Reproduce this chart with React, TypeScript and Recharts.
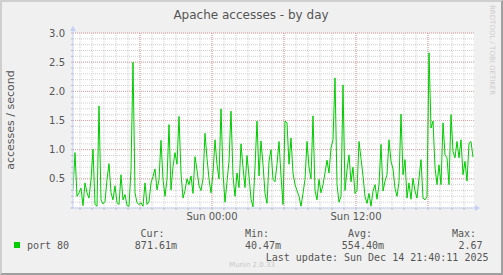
import { LineChart, Line, XAxis, YAxis, CartesianGrid } from 'recharts';

// samples every 10 minutes, hours relative to Sun 00:00 (first sample Sat 12:25)
const START_HOUR = -139 / 12;
const END_HOUR = 262 / 12;
const STEP_HOUR = 1 / 6;

const accesses = [
  0.31, 0.95, 0.2, 0.26, 0.34, 0.04, 0.43, 0.26, 0.17, 0.49,
  1.01, 0.06, 0.03, 1.75, 0.14, 0.07, 0.11, 0.49, 0.76, 0.26,
  0.14, 0.38, 0.09, 0.06, 0.57, 0.14, 0.23, 0.04, 0.03, 0.66,
  2.5, 0.26, 0.09, 0.06, 0.09, 0.03, 0.43, 0.06, 0.11, 0.43,
  0.54, 0.67, 0.31, 0.49, 1.16, 0.49, 0.2, 0.49, 1.43, 0.31,
  0.71, 0.95, 0.75, 1.57, 0.6, 0.17, 0.3, 0.5, 0.4, 0.55,
  0.25, 0.88, 0.65, 0.38, 0.3, 0.5, 1.28, 0.85, 0.5, 0.26,
  0.6, 1.17, 0.75, 0.5, 1.7, 0.6, 0.1, 0.45, 0.8, 1.66,
  0.55, 0.2, 0.6, 0.35, 1.1, 0.7, 0.35, 0.9, 0.55, 0.15,
  0.02, 0.7, 1.49, 0.55, 1.15, 0.75, 0.25, 0.08, 0.8, 1.0,
  0.49, 0.45, 0.75, 1.14, 0.55, 0.06, 1.49, 1.46, 0.75, 1.2,
  0.6, 0.4, 0.3, 0.2, 0.03, 0.25, 0.49, 1.14, 0.7, 0.5,
  1.58, 0.3, 0.14, 0.49, 0.26, 0.4, 0.6, 0.82, 0.6, 1.03,
  1.17, 2.23, 0.4, 0.1, 0.2, 2.11, 0.3, 0.65, 0.91, 0.45,
  0.7, 0.25, 0.3, 1.14, 0.85, 0.55, 0.2, 0.08, 0.25, 0.03,
  0.29, 0.4, 0.15, 0.4, 1.09, 0.29, 0.46, 0.57, 1.17, 0.8,
  0.67, 0.34, 0.2, 0.45, 1.61, 0.57, 0.83, 0.17, 0.43, 0.15,
  0.51, 0.29, 0.17, 0.51, 0.83, 0.17, 0.14, 0.2, 2.66, 1.37,
  1.49, 0.7, 0.4, 0.74, 0.4, 1.46, 0.91, 0.86, 0.4, 1.6,
  0.97, 0.86, 1.14, 0.86, 1.17, 0.57, 0.8, 0.46, 1.11, 1.14,
  0.87,
];

const data = accesses.map((v, i) => ({ t: START_HOUR + i * STEP_HOUR, v }));

const yMinor = Array.from({ length: 31 }, (_, k) => k / 10);
const yMajor = [0.5, 1.0, 1.5, 2.0, 2.5, 3.0];
const hourTicks = Array.from({ length: 33 }, (_, k) => k - 11);
const majorHours = [-6, 0, 6, 12, 18];
const xLabels: Record<number, string> = { 0: 'Sun 00:00', 12: 'Sun 12:00' };

const legendHeaders = ['Cur:', 'Min:', 'Avg:', 'Max:'];
const legendValues = ['871.61m', '40.47m', '554.40m', '2.67'];
const headerRight = [164.5, 269, 372, 476];
const valueRight = [177, 281, 384, 482.5];

const AXIS = '#c6cff5';
const TEXT = '#555555';
const SANS = '"DejaVu Sans", sans-serif';
const MONO = '"DejaVu Sans Mono", monospace';

function YTick({ x, y, payload }: any) {
  const v = payload.value as number;
  if (v <= 0 || Math.round(v * 10) % 5 !== 0) return <g />;
  return (
    <text x={x} y={y} dy="0.355em" textAnchor="end" fontSize={10} fill={TEXT} fontFamily={SANS}>
      {v.toFixed(1)}
    </text>
  );
}

function XTick({ x, y, payload }: any) {
  const label = xLabels[payload.value as number];
  if (!label) return <g />;
  return (
    <text x={x} y={y} dy="0.71em" textAnchor="middle" fontSize={10} fill={TEXT} fontFamily={SANS}>
      {label}
    </text>
  );
}

export default function App() {
  return (
    <div style={{ position: 'fixed', left: 0, top: 0, width: 503, height: 275, background: '#f0f0f0' }}>
      <div
        style={{
          position: 'absolute', inset: 0, boxSizing: 'border-box',
          borderTop: '2px solid #cfcfcf', borderLeft: '2px solid #cfcfcf',
          borderRight: '2px solid #9f9f9f', borderBottom: '2px solid #9f9f9f',
        }}
      />
      <div style={{ position: 'absolute', left: 0, top: 0 }}>
        <LineChart width={503} height={275} data={data} margin={{ top: 33, right: 29, bottom: 0, left: 0 }}>
          <CartesianGrid fill="#ffffff" stroke="#d0d0d0" strokeDasharray="1 1" horizontalValues={yMinor} verticalValues={hourTicks} />
          <CartesianGrid stroke="#eaa0a0" strokeDasharray="1 1" horizontalValues={yMajor} verticalValues={majorHours} />
          <XAxis
            type="number"
            dataKey="t"
            domain={[START_HOUR, END_HOUR]}
            allowDataOverflow
            ticks={hourTicks}
            interval={0}
            tick={<XTick />}
            tickSize={2}
            tickMargin={3}
            tickLine={{ stroke: '#b8b8c8' }}
            axisLine={{ stroke: AXIS }}
            height={67}
          />
          <YAxis
            type="number"
            domain={[0, 3]}
            ticks={yMinor}
            interval={0}
            tick={<YTick />}
            tickSize={2}
            tickMargin={6}
            tickLine={{ stroke: '#b8b8c8' }}
            axisLine={{ stroke: AXIS }}
            width={73}
          />
          <Line type="linear" dataKey="v" stroke="#00cc00" strokeWidth={1} dot={false} isAnimationActive={false} />
        </LineChart>
      </div>
      <svg width={503} height={275} style={{ position: 'absolute', left: 0, top: 0, pointerEvents: 'none' }}>
        <line x1={73} y1={30} x2={73} y2={33} stroke={AXIS} />
        <polygon points="73,26 70,31 76,31" fill={AXIS} />
        <line x1={70} y1={208} x2={73} y2={208} stroke={AXIS} />
        <line x1={474} y1={208} x2={476} y2={208} stroke={AXIS} />
        <polygon points="480,208 475,205 475,211" fill={AXIS} />
        <text x={251} y={18.5} textAnchor="middle" fontSize={12} fill={TEXT} fontFamily={SANS}>
          Apache accesses - by day
        </text>
        <text transform="translate(14,120) rotate(-90)" textAnchor="middle" fontSize={11} fill={TEXT} fontFamily={SANS}>
          accesses / second
        </text>
        <text transform="translate(490,5) rotate(90)" fontSize={7} fill="#cccccc" fontFamily={SANS}>
          RRDTOOL / TOBI OETIKER
        </text>
        <rect x={14} y={242} width={6} height={6} fill="#00cc00" />
        <text x={27} y={248.5} fontSize={10} fill={TEXT} fontFamily={MONO}>port 80</text>
        {legendHeaders.map((h, k) => (
          <text key={h} x={headerRight[k]} y={236.5} textAnchor="end" fontSize={10} fill={TEXT} fontFamily={MONO}>{h}</text>
        ))}
        {legendValues.map((v, k) => (
          <text key={v} x={valueRight[k]} y={248.5} textAnchor="end" fontSize={10} fill={TEXT} fontFamily={MONO}>{v}</text>
        ))}
        <text x={488.5} y={260.5} textAnchor="end" fontSize={10} fill={TEXT} fontFamily={MONO}>
          Last update: Sun Dec 14 21:40:11 2025
        </text>
        <text x={252} y={266.5} textAnchor="middle" fontSize={7} fill="#c8c8c8" fontFamily={SANS}>
          Munin 2.0.33
        </text>
      </svg>
    </div>
  );
}
